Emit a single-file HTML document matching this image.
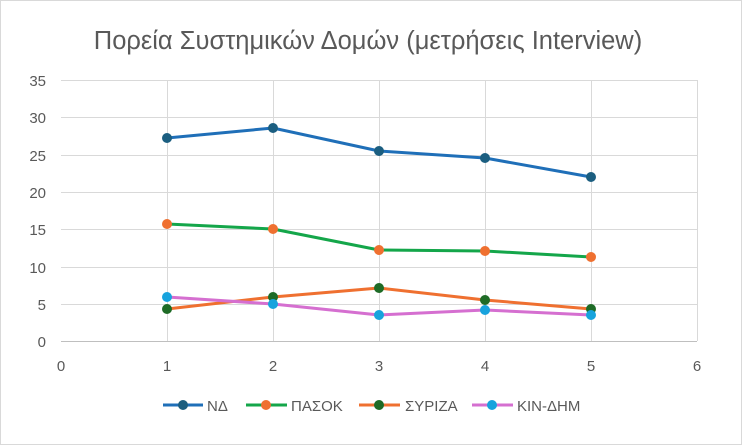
<!DOCTYPE html>
<html><head><meta charset="utf-8"><style>body{margin:0;background:#fff}svg{display:block}text{font-family:"Liberation Sans","DejaVu Sans",sans-serif}</style></head><body>
<svg width="742" height="445" viewBox="0 0 742 445" xmlns="http://www.w3.org/2000/svg">
<rect x="0.5" y="0.5" width="741" height="444" fill="#fff" stroke="#d9d9d9"/>
<text x="368" y="49" text-anchor="middle" font-size="25.5" fill="#595959">Πορεία Συστημικών Δομών (μετρήσεις Interview)</text>
<g stroke="#d9d9d9" stroke-width="1">
<line x1="61" y1="80.5" x2="697" y2="80.5"/><line x1="61" y1="117.5" x2="697" y2="117.5"/><line x1="61" y1="155.5" x2="697" y2="155.5"/><line x1="61" y1="192.5" x2="697" y2="192.5"/><line x1="61" y1="229.5" x2="697" y2="229.5"/><line x1="61" y1="267.5" x2="697" y2="267.5"/><line x1="61" y1="304.5" x2="697" y2="304.5"/>
<line x1="167.5" y1="80" x2="167.5" y2="341"/><line x1="273.5" y1="80" x2="273.5" y2="341"/><line x1="379.5" y1="80" x2="379.5" y2="341"/><line x1="485.5" y1="80" x2="485.5" y2="341"/><line x1="591.5" y1="80" x2="591.5" y2="341"/><line x1="697.5" y1="80" x2="697.5" y2="341"/>
</g>
<line x1="61" y1="341.5" x2="697" y2="341.5" stroke="#bfbfbf"/>
<g font-size="15" fill="#595959" text-anchor="end">
<text x="46" y="86">35</text><text x="46" y="123">30</text><text x="46" y="161">25</text><text x="46" y="198">20</text><text x="46" y="235">15</text><text x="46" y="273">10</text><text x="46" y="310">5</text><text x="46" y="347">0</text>
</g>
<g font-size="15" fill="#595959" text-anchor="middle">
<text x="61" y="371">0</text><text x="167" y="371">1</text><text x="273" y="371">2</text><text x="379" y="371">3</text><text x="485" y="371">4</text><text x="591" y="371">5</text><text x="697" y="371">6</text>
</g>
<g fill="none" stroke-width="3" stroke-linejoin="round">
<polyline stroke="#1f6fb8" points="167,138 273,128 379,151 485,158 591,177"/>
<polyline stroke="#14a64a" points="167,224 273,229 379,250 485,251 591,257"/>
<polyline stroke="#ef7030" points="167,309 273,297 379,288 485,300 591,309"/>
<polyline stroke="#d56fd0" points="167,297 273,304 379,315 485,310 591,315"/>
</g>
<g fill="#1b5e80"><circle cx="167" cy="138" r="5"/><circle cx="273" cy="128" r="5"/><circle cx="379" cy="151" r="5"/><circle cx="485" cy="158" r="5"/><circle cx="591" cy="177" r="5"/></g>
<g fill="#ef7030"><circle cx="167" cy="224" r="5"/><circle cx="273" cy="229" r="5"/><circle cx="379" cy="250" r="5"/><circle cx="485" cy="251" r="5"/><circle cx="591" cy="257" r="5"/></g>
<g fill="#1e6b26"><circle cx="167" cy="309" r="5"/><circle cx="273" cy="297" r="5"/><circle cx="379" cy="288" r="5"/><circle cx="485" cy="300" r="5"/><circle cx="591" cy="309" r="5"/></g>
<g fill="#17a3dd"><circle cx="167" cy="297" r="5"/><circle cx="273" cy="304" r="5"/><circle cx="379" cy="315" r="5"/><circle cx="485" cy="310" r="5"/><circle cx="591" cy="315" r="5"/></g>
<g stroke-width="3">
<line x1="163" y1="405" x2="203" y2="405" stroke="#1f6fb8"/><circle cx="183" cy="405" r="5" fill="#1b5e80"/>
<line x1="246" y1="405" x2="287" y2="405" stroke="#14a64a"/><circle cx="266" cy="405" r="5" fill="#ef7030"/>
<line x1="359" y1="405" x2="400" y2="405" stroke="#ef7030"/><circle cx="379" cy="405" r="5" fill="#1e6b26"/>
<line x1="472" y1="405" x2="513" y2="405" stroke="#d56fd0"/><circle cx="492" cy="405" r="5" fill="#17a3dd"/>
</g>
<g font-size="15" fill="#595959">
<text x="207" y="411">ΝΔ</text><text x="291" y="411">ΠΑΣΟΚ</text><text x="405" y="411">ΣΥΡΙΖΑ</text><text x="517" y="411">ΚΙΝ-ΔΗΜ</text>
</g>
</svg>
</body></html>
